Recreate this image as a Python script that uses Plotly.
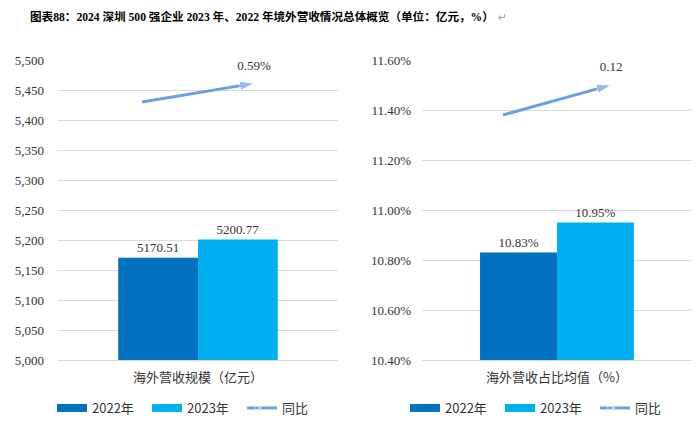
import plotly.graph_objects as go

# ---------------- data ----------------
years = ["2022年", "2023年"]
bar_colors = ["#0070C0", "#00B0F0"]
arrow_color = "#6A9FE3"
yoy_name = "同比"

left_category = "海外营收规模（亿元）"
left_values = [5170.51, 5200.77]
left_yoy_label = "0.59%"
left_arrow_x = [-0.2, 0.2]
left_arrow_y = [5430, 5461]
left_ticks = [5000, 5050, 5100, 5150, 5200, 5250, 5300, 5350, 5400, 5450, 5500]

right_category = "海外营收占比均值（%）"
right_values = [10.83, 10.95]
right_yoy_label = "0.12"
right_arrow_x = [-0.2, 0.2]
right_arrow_y = [11.38, 11.50]
right_ticks = [10.4, 10.6, 10.8, 11.0, 11.2, 11.4, 11.6]
right_tick_labels = [f"{v:.2f}%" for v in right_ticks]

title_text = "图表88：2024 深圳 500 强企业 2023 年、2022 年境外营收情况总体概览（单位：亿元，%）"

# ---------------- figure ----------------
W, H = 700, 428
SERIF = "Liberation Serif, Noto Sans CJK SC, serif"
SANS = "Noto Sans CJK SC, Noto Sans, sans-serif"
TXT = "#333333"

fig = go.Figure()

def add_panel(xa, ya, legend, values, label_tpl, arrow_x, arrow_y, yoy_label):
    for i, (yr, v) in enumerate(zip(years, values)):
        fig.add_trace(go.Bar(
            x=[0], y=[v], name=yr, marker_color=bar_colors[i],
            marker_line_width=0, xaxis=xa, yaxis=ya, showlegend=False,
            offsetgroup=str(i), texttemplate=label_tpl, textposition="outside",
            textfont=dict(family=SERIF, size=13, color=TXT), cliponaxis=False,
        ))
    # legend proxies (wide lines look like the rectangles in the reference)
    for i, yr in enumerate(years):
        fig.add_trace(go.Scatter(
            x=[None], y=[None], mode="lines", name=yr,
            line=dict(color=bar_colors[i], width=8),
            xaxis=xa, yaxis=ya, legend=legend,
        ))
    fig.add_trace(go.Scatter(
        x=arrow_x, y=arrow_y, mode="lines+markers+text", name=yoy_name,
        line=dict(color=arrow_color, width=3),
        marker=dict(symbol="arrow", angleref="previous", size=[0, 15],
                    color=arrow_color),
        text=["", yoy_label], textposition="top center",
        textfont=dict(family=SERIF, size=13, color=TXT),
        xaxis=xa, yaxis=ya, legend=legend, cliponaxis=False,
    ))

add_panel("x", "y", "legend", left_values, "%{y:.2f}",
          left_arrow_x, left_arrow_y, left_yoy_label)
add_panel("x2", "y2", "legend2", right_values, "%{y:.2f}%",
          right_arrow_x, right_arrow_y, right_yoy_label)

y_bot = 1 - 360 / H
y_top = 1 - 60 / H

xcommon = dict(range=[-0.5, 0.5], tickvals=[0], showgrid=False, zeroline=False,
               showline=True, linecolor="#D9D9D9", linewidth=1, ticks="",
               tickfont=dict(family=SANS, size=13, color=TXT), fixedrange=True,
               ticklabelstandoff=5, tickmode="array")
ycommon = dict(showgrid=True, gridcolor="#D9D9D9", gridwidth=1, zeroline=False,
               showline=False, ticks="", fixedrange=True, tickmode="array",
               tickfont=dict(family=SERIF, size=13, color=TXT))

legcommon = dict(orientation="h", y=1 - 408 / H, xanchor="left", yanchor="middle",
                 font=dict(family=SANS, size=13, color=TXT),
                 entrywidth=50, entrywidthmode="pixels",
                 bgcolor="rgba(0,0,0,0)", itemwidth=30, tracegroupgap=0)

fig.update_layout(
    width=W, height=H,
    margin=dict(l=0, r=0, t=0, b=0, autoexpand=False),
    paper_bgcolor="white", plot_bgcolor="white",
    barmode="group", bargap=0.43, bargroupgap=0,
    xaxis=dict(domain=[58 / W, 338 / W], ticktext=[left_category], **xcommon),
    yaxis=dict(domain=[y_bot, y_top], range=[5000, 5500], tickvals=left_ticks,
               tickformat=",", ticklabelstandoff=13, **ycommon),
    xaxis2=dict(domain=[422 / W, 692 / W], ticktext=[right_category], anchor="y2",
                **xcommon),
    yaxis2=dict(domain=[y_bot, y_top], range=[10.4, 11.6], tickvals=right_ticks,
                ticktext=right_tick_labels, ticklabelstandoff=10,
                anchor="x2", **ycommon),
    legend=dict(x=52 / W, **legcommon),
    legend2=dict(x=405 / W, **legcommon),
    annotations=[
        dict(text="<b>" + title_text + "</b>", x=262 / W, y=1 - 17 / H,
             xref="paper", yref="paper", showarrow=False, xanchor="center",
             yanchor="middle", font=dict(family=SERIF, size=11.6, color="#000000")),
        dict(text="↵", x=496 / W, y=1 - 17 / H, xref="paper", yref="paper",
             showarrow=False, xanchor="left", yanchor="middle",
             font=dict(family="DejaVu Sans", size=11, color="#A6A6A6")),
    ],
)

fig.write_html("out.html", config={"displayModeBar": False},
               post_script="document.body.style.margin='0px';")
